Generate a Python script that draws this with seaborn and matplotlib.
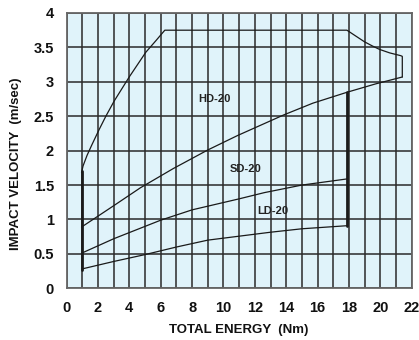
import numpy as np
import pandas as pd
import matplotlib
matplotlib.use('Agg')
import matplotlib.pyplot as plt
from matplotlib.ticker import MultipleLocator
import seaborn as sns

sns.set_theme(style='white')
plt.rcParams['font.family'] = ['Liberation Sans', 'DejaVu Sans']

# outline of the HD-20 range
hd_top_x = [0.95, 1.05, 1.3, 1.6, 2.08, 2.5, 3.03, 3.99, 5.05, 5.7, 6.26,
            17.87, 18.4, 19.0, 19.5, 19.96, 20.6, 21.3, 21.4, 21.4]
hd_top_y = [1.68, 1.78, 1.93, 2.08, 2.31, 2.50, 2.72, 3.07, 3.43, 3.60, 3.75,
            3.75, 3.67, 3.58, 3.52, 3.47, 3.42, 3.38, 3.37, 3.07]
hd_low_x = [0.95, 3.0, 4.7, 6.8, 9.0, 10.9, 13.85, 15.7, 17.9, 19.7, 21.4]
hd_low_y = [0.89, 1.20, 1.46, 1.74, 2.01, 2.22, 2.52, 2.69, 2.85, 2.97, 3.07]
sd_x = [0.95, 3.0, 6.0, 8.0, 11.0, 12.6, 15.0, 17.9]
sd_y = [0.51, 0.72, 0.99, 1.14, 1.30, 1.39, 1.50, 1.59]
ld_x = [0.95, 3.0, 5.0, 7.0, 9.0, 13.0, 15.0, 17.9]
ld_y = [0.28, 0.39, 0.49, 0.60, 0.70, 0.815, 0.865, 0.91]

# thick vertical limits
left_x = [0.95, 0.95]
left_y = [0.27, 1.70]
right_x = [17.9, 17.9]
right_y = [0.91, 2.85]

labels = ['HD-20', 'SD-20', 'LD-20']
label_x = [9.45, 11.44, 13.13]
label_y = [2.75, 1.73, 1.13]

x_ticks = list(range(0, 23, 2))
y_ticks = [0, 0.5, 1, 1.5, 2, 2.5, 3, 3.5, 4]
y_tick_labels = ['0', '0.5', '1', '1.5', '2', '2.5', '3', '3.5', '4']

fig = plt.figure(figsize=(4.19, 3.40), dpi=100)
ax = fig.add_axes([0.159, 0.152, 0.8236, 0.8098])
ax.set_facecolor('#e0f3fa')

line_kw = dict(sort=False, estimator=None, color='#1a1a1a', ax=ax, legend=False)
for xs, ys in [(hd_top_x, hd_top_y), (hd_low_x, hd_low_y), (sd_x, sd_y), (ld_x, ld_y)]:
    df = pd.DataFrame({'x': xs, 'y': ys})
    sns.lineplot(data=df, x='x', y='y', linewidth=0.9, **line_kw)
for xs, ys in [(left_x, left_y), (right_x, right_y)]:
    df = pd.DataFrame({'x': xs, 'y': ys})
    sns.lineplot(data=df, x='x', y='y', linewidth=2.0, **line_kw)

for name, lx, ly in zip(labels, label_x, label_y):
    ax.text(lx, ly, name, fontsize=8, fontweight='bold', ha='center', va='center', color='#222222')

ax.set_xlim(0, 22)
ax.set_ylim(0, 4)
ax.set_xticks(x_ticks)
ax.set_xticklabels([str(t) for t in x_ticks])
ax.xaxis.set_minor_locator(MultipleLocator(1))
ax.set_yticks(y_ticks)
ax.set_yticklabels(y_tick_labels)
ax.grid(True, which='both', axis='x', color='#2a2a2a', linewidth=1.1)
ax.grid(True, which='major', axis='y', color='#2a2a2a', linewidth=1.1)
ax.set_axisbelow(True)
ax.tick_params(axis='both', which='both', length=0, labelsize=10.5, pad=9, colors='#111111')
for lab in ax.get_xticklabels() + ax.get_yticklabels():
    lab.set_fontweight('bold')
for sp in ax.spines.values():
    sp.set_color('#666666')
    sp.set_linewidth(1.3)

ax.set_xlabel('TOTAL ENERGY  (Nm)', fontsize=9.5, fontweight='bold', color='#111111')
ax.set_ylabel('IMPACT VELOCITY  (m/sec)', fontsize=9.5, fontweight='bold', color='#111111')
ax.xaxis.label.set_va('center')
ax.yaxis.label.set_va('center')
ax.xaxis.set_label_coords(0.5, -0.151)
ax.yaxis.set_label_coords(-0.148, 0.451)

fig.savefig('out.png', dpi=100)
